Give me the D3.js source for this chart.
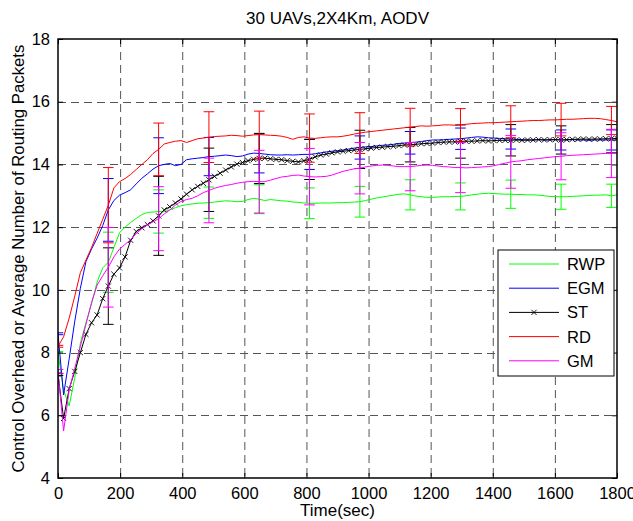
<!DOCTYPE html>
<html><head><meta charset="utf-8">
<script src="https://cdn.jsdelivr.net/npm/d3@7"></script>
<style>
body{margin:0;background:#fff;}
text{font-family:"Liberation Sans",Arial,sans-serif;fill:#000;}
</style></head>
<body><svg id="c" width="633" height="521"></svg>
<script>
const TIME_STEP = 18; // seconds between samples
const xTicks = [0,200,400,600,800,1000,1200,1400,1600,1800];
const yTicks = [4,6,8,10,12,14,16,18];
const seriesNames = ["RWP","EGM","ST","RD","GM"];

const rwp = [8.00,6.80,6.30,7.20,8.30,8.95,9.55,10.25,10.70,10.88,
11.35,11.82,12.00,12.15,12.28,12.40,12.47,12.48,12.50,12.49,
12.55,12.62,12.68,12.72,12.74,12.76,12.77,12.78,12.80,12.82,
12.84,12.83,12.81,12.82,12.88,12.92,12.89,12.85,12.88,12.86,
12.84,12.83,12.80,12.79,12.77,12.76,12.76,12.77,12.77,12.77,
12.78,12.78,12.79,12.80,12.81,12.85,12.89,12.93,12.96,12.99,
13.02,13.05,13.06,13.03,12.99,12.97,12.95,12.95,12.96,12.97,
12.97,12.98,12.98,13.00,13.03,13.05,13.07,13.08,13.07,13.06,
13.05,13.05,13.04,13.04,13.03,13.03,13.02,13.00,12.98,12.97,
12.97,12.97,12.98,12.99,13.00,13.01,13.02,13.02,13.03,13.00,13.03];

const egm = [8.60,6.65,7.80,9.00,10.05,10.90,11.30,11.65,12.05,12.55,
12.85,13.02,13.10,13.19,13.38,13.56,13.70,13.85,13.96,14.00,
14.03,13.96,14.00,14.15,14.18,14.20,14.22,14.25,14.26,14.28,
14.30,14.28,14.25,14.27,14.33,14.36,14.35,14.33,14.31,14.30,
14.30,14.31,14.30,14.31,14.32,14.32,14.34,14.37,14.40,14.42,
14.44,14.46,14.49,14.52,14.54,14.56,14.57,14.59,14.61,14.62,
14.64,14.67,14.68,14.69,14.71,14.73,14.76,14.78,14.78,14.79,
14.80,14.81,14.82,14.84,14.86,14.88,14.87,14.85,14.84,14.83,
14.82,14.81,14.80,14.79,14.78,14.78,14.79,14.78,14.78,14.79,
14.78,14.78,14.79,14.78,14.78,14.77,14.78,14.78,14.78,14.78,14.78];

const st = [7.30,5.90,6.85,7.40,8.00,8.58,8.95,9.20,9.72,10.12,
10.50,10.70,11.05,11.58,11.86,11.98,12.08,12.20,12.36,12.55,
12.65,12.77,12.90,13.05,13.19,13.30,13.40,13.51,13.62,13.72,
13.82,13.92,14.01,14.06,14.12,14.16,14.19,14.20,14.18,14.16,
14.15,14.12,14.10,14.08,14.12,14.16,14.24,14.30,14.33,14.37,
14.40,14.42,14.44,14.46,14.48,14.50,14.52,14.54,14.55,14.57,
14.58,14.60,14.62,14.63,14.64,14.66,14.67,14.68,14.70,14.71,
14.72,14.72,14.73,14.74,14.74,14.75,14.76,14.75,14.76,14.77,
14.77,14.77,14.78,14.77,14.78,14.78,14.79,14.78,14.79,14.79,
14.78,14.79,14.80,14.80,14.81,14.80,14.81,14.81,14.82,14.82,14.83];

const rd = [8.20,8.50,9.10,9.80,10.55,10.95,11.35,11.80,12.25,12.70,
13.25,13.45,13.55,13.68,13.84,14.00,14.15,14.35,14.48,14.65,
14.70,14.74,14.76,14.70,14.76,14.82,14.84,14.87,14.89,14.90,
14.91,14.93,14.92,14.90,14.92,14.94,14.95,14.94,14.93,14.92,
14.90,14.86,14.80,14.86,14.88,14.84,14.83,14.85,14.87,14.88,
14.88,14.90,14.93,14.97,15.00,15.03,15.05,15.07,15.09,15.11,
15.13,15.15,15.17,15.19,15.21,15.23,15.22,15.23,15.24,15.26,
15.26,15.25,15.26,15.28,15.30,15.31,15.32,15.33,15.33,15.34,
15.35,15.36,15.37,15.38,15.39,15.40,15.40,15.41,15.42,15.42,
15.43,15.44,15.44,15.45,15.46,15.47,15.47,15.46,15.43,15.40,15.36];

const gm = [7.40,5.50,6.80,7.50,8.20,8.90,9.60,10.15,10.45,10.72,
11.05,11.30,11.45,11.60,11.80,11.95,12.07,12.17,12.27,12.42,
12.55,12.70,12.82,12.88,12.92,13.00,13.10,13.17,13.24,13.29,
13.33,13.36,13.40,13.43,13.45,13.46,13.45,13.45,13.50,13.55,
13.60,13.62,13.65,13.66,13.63,13.61,13.60,13.61,13.62,13.66,
13.72,13.78,13.82,13.86,13.88,13.92,13.95,13.97,13.98,13.97,
13.95,13.93,13.93,13.93,13.95,13.97,13.98,13.97,13.95,13.93,
13.92,13.90,13.90,13.89,13.90,13.91,13.92,13.93,13.96,14.00,
14.04,14.08,14.10,14.12,14.15,14.17,14.19,14.21,14.23,14.25,
14.26,14.28,14.29,14.30,14.31,14.32,14.33,14.34,14.35,14.35,14.36];

// sample indices carrying error bars, and half-widths of the bars
const errIdx = [0,9,18,27,36,45,54,63,72,81,90,99];
const rwpErr = [0.03,0.96,0.69,0.50,0.46,0.49,0.49,0.48,0.43,0.45,0.40,0.37];
const egmErr = [0.03,1.00,0.89,0.61,0.62,0.48,0.37,0.36,0.34,0.32,0.32,0.32];
const stErr  = [0.03,1.22,1.26,1.01,0.80,0.64,0.61,0.55,0.53,0.50,0.45,0.45];
const rdErr  = [0.03,1.20,0.84,0.81,0.75,0.77,0.65,0.60,0.52,0.51,0.52,0.45];
const gmErr  = [0.06,1.27,1.02,1.03,1.00,0.90,0.82,0.77,0.80,0.84,0.75,0.77];

const colors = ["#00ff00","#0000ff","#000000","#ff0000","#ff00ff"];
const seriesVals = [rwp,egm,st,rd,gm];
const seriesErr = [rwpErr,egmErr,stErr,rdErr,gmErr];

const L=58,R=617,T=39,B=478;
const x = d3.scaleLinear().domain([0,1800]).range([L,R]);
const y = d3.scaleLinear().domain([4,18]).range([B,T]);
const svg = d3.select("#c");

svg.append("defs").append("clipPath").attr("id","pc")
  .append("rect").attr("x",L).attr("y",T).attr("width",R-L).attr("height",B-T);

// grid
const grid = svg.append("g");
grid.selectAll("line.gx").data(xTicks.filter(t=>t>0&&t<1800)).join("line")
  .attr("x1",d=>x(d)+0.5).attr("x2",d=>x(d)+0.5).attr("y1",T).attr("y2",B)
  .attr("stroke","#555").attr("stroke-width",1).attr("stroke-dasharray","8,5");
grid.selectAll("line.gy").data(yTicks.filter(t=>t>4&&t<18)).join("line")
  .attr("y1",d=>Math.round(y(d))+0.5).attr("y2",d=>Math.round(y(d))+0.5).attr("x1",L).attr("x2",R)
  .attr("stroke","#555").attr("stroke-width",1).attr("stroke-dasharray","8,5");

// data
const plot = svg.append("g").attr("clip-path","url(#pc)");
const line = d3.line().x((d,i)=>x(i*TIME_STEP)).y(d=>y(d));
seriesVals.forEach((vals,s)=>{
  const g = plot.append("g");
  g.append("path").attr("d",line(vals)).attr("fill","none")
    .attr("stroke",colors[s]).attr("stroke-width",1);
  errIdx.forEach((idx,k)=>{
    const cx = x(idx*TIME_STEP), v = vals[idx], e = seriesErr[s][k];
    const y1 = y(v-e), y2 = y(v+e);
    g.append("line").attr("x1",cx).attr("x2",cx).attr("y1",y1).attr("y2",y2)
      .attr("stroke",colors[s]).attr("stroke-width",1);
    [y1,y2].forEach(yy=>g.append("line").attr("x1",cx-5.3).attr("x2",cx+5.3)
      .attr("y1",yy).attr("y2",yy).attr("stroke",colors[s]).attr("stroke-width",1));
  });
  if(seriesNames[s]==="ST"){
    g.selectAll("path.mk").data(vals).join("path")
      .attr("d",(d,i)=>{const px=x(i*TIME_STEP),py=y(d),r=2.6;
        return `M${px-r},${py-r}L${px+r},${py+r}M${px-r},${py+r}L${px+r},${py-r}`;})
      .attr("stroke","#000").attr("stroke-width",0.9).attr("fill","none");
  }
});

// axes with inward ticks
const fs = "16.5px";
const ax = svg.append("g").attr("transform",`translate(0,${B})`)
  .call(d3.axisBottom(x).tickValues(xTicks).tickSizeInner(-5).tickSizeOuter(0).tickPadding(9).tickFormat(d3.format("d")));
const ay = svg.append("g").attr("transform",`translate(${L},0)`)
  .call(d3.axisLeft(y).tickValues(yTicks).tickSizeInner(-5).tickSizeOuter(0).tickPadding(8).tickFormat(d3.format("d")));
const at = svg.append("g").attr("transform",`translate(0,${T})`)
  .call(d3.axisTop(x).tickValues(xTicks).tickSizeInner(-5).tickSizeOuter(0).tickFormat(""));
const ar = svg.append("g").attr("transform",`translate(${R},0)`)
  .call(d3.axisRight(y).tickValues(yTicks).tickSizeInner(-5).tickSizeOuter(0).tickFormat(""));
[ax,ay,at,ar].forEach(a=>{
  a.select(".domain").remove();
  a.selectAll("line").attr("stroke","#000");
  a.selectAll("text").style("font-size",fs).style("font-family","Liberation Sans, Arial, sans-serif").attr("fill","#000");
});
svg.append("rect").attr("x",L).attr("y",T).attr("width",R-L).attr("height",B-T)
  .attr("fill","none").attr("stroke","#000").attr("stroke-width",1.5);

// titles
svg.append("text").attr("x",(L+R)/2).attr("y",24).attr("text-anchor","middle")
  .style("font-size","17px").text("30 UAVs,2X4Km, AODV");
svg.append("text").attr("x",(L+R)/2).attr("y",516).attr("text-anchor","middle")
  .style("font-size","17px").text("Time(sec)");
svg.append("text").attr("transform",`translate(24,${(T+B)/2}) rotate(-90)`).attr("text-anchor","middle")
  .style("font-size","16.8px").text("Control Overhead or Average Number of Routing Packets");

// legend
const lg = svg.append("g");
lg.append("rect").attr("x",498).attr("y",250).attr("width",116).attr("height",126)
  .attr("fill","#fff").attr("stroke","#000").attr("stroke-width",1);
seriesNames.forEach((n,i)=>{
  const yy = 264 + i*24.2;
  lg.append("line").attr("x1",509).attr("x2",559).attr("y1",yy).attr("y2",yy)
    .attr("stroke",colors[i]).attr("stroke-width",1);
  if(n==="ST"){
    const r=2.6;
    lg.append("path").attr("d",`M${534-r},${yy-r}L${534+r},${yy+r}M${534-r},${yy+r}L${534+r},${yy-r}`)
      .attr("stroke","#000").attr("stroke-width",0.9);
  }
  lg.append("text").attr("x",567).attr("y",yy).attr("dy","0.36em")
    .style("font-size","16.5px").text(n);
});
</script></body></html>
